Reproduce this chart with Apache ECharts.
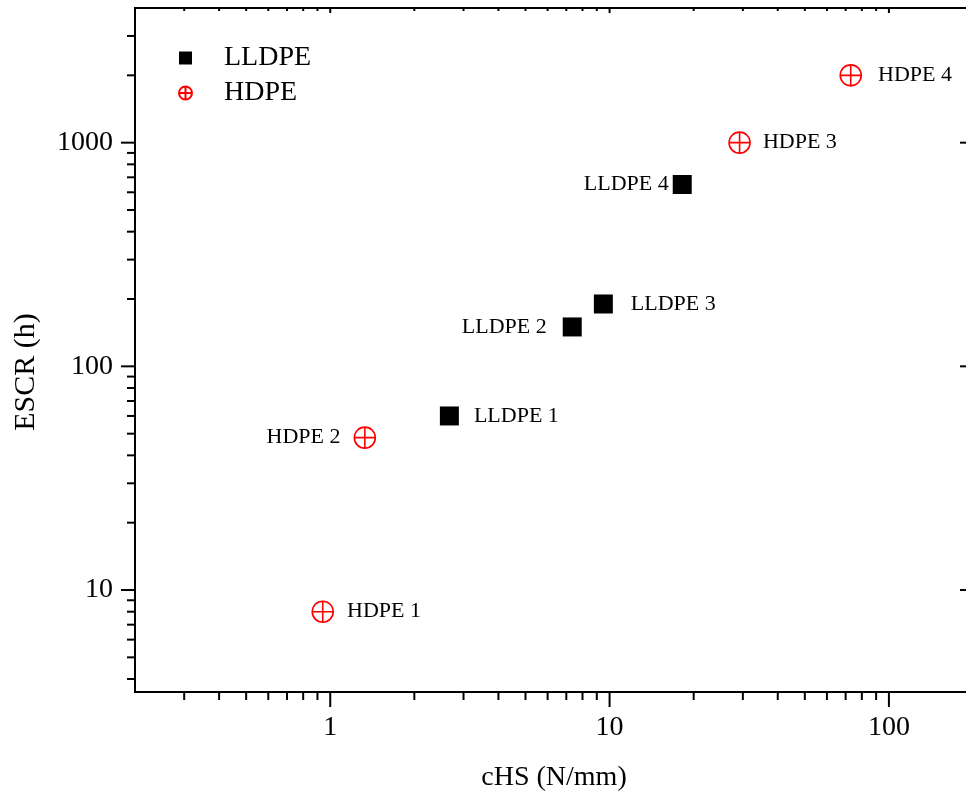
<!DOCTYPE html>
<html><head><meta charset="utf-8">
<script src="https://cdn.jsdelivr.net/npm/echarts@6/dist/echarts.min.js"></script>
<style>html,body{margin:0;padding:0;background:#fff}#c{width:966px;height:791px}</style>
</head><body><div id="c"></div>
<script>
// ---- data ----
const lldpeNames = ['LLDPE 1', 'LLDPE 2', 'LLDPE 3', 'LLDPE 4'];
const lldpeX = [2.67, 7.35, 9.5, 18.2];
const lldpeY = [60, 150, 190, 650];
const hdpeNames = ['HDPE 1', 'HDPE 2', 'HDPE 3', 'HDPE 4'];
const hdpeX = [0.94, 1.33, 29.2, 73];
const hdpeY = [8, 48, 1000, 2000];
const xRange = [0.2, 200];
const yRange = [3.5, 4000];
const xMajorTicks = [1, 10, 100];
const yMajorTicks = [10, 100, 1000];
const minorMultipliers = [2, 3, 4, 5, 6, 7, 8, 9];
const xDecades = [0.1, 1, 10, 100];
const yDecades = [1, 10, 100, 1000];

// ---- label placement (style) ----
const lldpeLabelSide = ['right', 'left', 'right', 'left'];
const lldpeLabelDist = [15, 16, 18, 4];
const hdpeLabelSide = ['right', 'left', 'right', 'right'];
const hdpeLabelDist = [13, 13, 12, 16];

const FONT = '"Liberation Serif", "Times New Roman", serif';

function minors(decades, range) {
  const out = [];
  decades.forEach(d => minorMultipliers.forEach(m => {
    const v = +(d * m).toPrecision(6);
    if (v > range[0] && v < range[1]) out.push(v);
  }));
  return out;
}
const xMinorTicks = minors(xDecades, xRange);
const yMinorTicks = minors(yDecades, yRange);

// tick data: [x, y, axis(0=x,1=y), major(1)/minor(0)]
const tickData = [];
xMajorTicks.forEach(v => tickData.push([v, 10, 0, 1]));
xMinorTicks.forEach(v => tickData.push([v, 10, 0, 0]));
yMajorTicks.forEach(v => tickData.push([1, v, 1, 1]));
yMinorTicks.forEach(v => tickData.push([1, v, 1, 0]));

function renderTick(params, api) {
  const cs = params.coordSys;
  const axis = api.value(2);
  const major = api.value(3) === 1;
  const p = api.coord([api.value(0), api.value(1)]);
  const st = { stroke: '#000', lineWidth: 2 };
  if (axis === 0) {
    const yb = cs.y + cs.height, yt = cs.y;
    const L = major ? 15 : 8, T = major ? 5 : 3;
    return { type: 'group', children: [
      { type: 'line', shape: { x1: p[0], y1: yb, x2: p[0], y2: yb + L }, style: st },
      { type: 'line', shape: { x1: p[0], y1: yt, x2: p[0], y2: yt + T }, style: st }
    ]};
  } else {
    const xl = cs.x, xr = cs.x + cs.width;
    const L = major ? 14 : 8, R = major ? 13 : 6;
    return { type: 'group', children: [
      { type: 'line', shape: { x1: xl - L, y1: p[1], x2: xl, y2: p[1] }, style: st },
      { type: 'line', shape: { x1: xr - R, y1: p[1], x2: xr, y2: p[1] }, style: st }
    ]};
  }
}

const crossCircle = 'path://M0,-10A10,10 0 1,1 0,10A10,10 0 1,1 0,-10Z M-10,0L10,0 M0,-10L0,10';

function mk(names, xs, ys, sides, dists) {
  return names.map((n, i) => ({
    name: n,
    value: [xs[i], ys[i]],
    label: { position: sides[i], distance: dists[i] }
  }));
}

const chart = echarts.init(document.getElementById('c'));
chart.setOption({
  animation: false,
  backgroundColor: '#fff',
  grid: { left: 135, top: 8, width: 838, height: 684, outerBoundsMode: 'none', containLabel: false,
    show: true, borderColor: '#000', borderWidth: 2, backgroundColor: 'transparent' },
  legend: {
    left: 173, top: 39, orient: 'vertical', itemWidth: 13, itemHeight: 13, itemGap: 7,
    formatter: name => '{g|}' + name,
    textStyle: { fontFamily: FONT, fontSize: 28, color: '#000', lineHeight: 28,
      rich: { g: { width: 27 } } },
    data: ['LLDPE', 'HDPE']
  },
  xAxis: {
    type: 'log', logBase: 10, min: xRange[0], max: xRange[1],
    name: 'cHS (N/mm)', nameLocation: 'middle', nameGap: 72,
    nameTextStyle: { fontFamily: FONT, fontSize: 28, color: '#000' },
    axisLine: { lineStyle: { color: '#000', width: 2 } },
    axisTick: { show: false }, minorTick: { show: false },
    splitLine: { show: false },
    axisLabel: { fontFamily: FONT, fontSize: 28, color: '#000', margin: 22, showMinLabel: false, showMaxLabel: false,
      formatter: v => String(+v.toPrecision(6)) }
  },
  yAxis: {
    type: 'log', logBase: 10, min: yRange[0], max: yRange[1],
    name: 'ESCR (h)', nameLocation: 'middle', nameGap: 94,
    nameTextStyle: { fontFamily: FONT, fontSize: 30, color: '#000', padding: [0, 44, 0, 0] },
    axisLine: { lineStyle: { color: '#000', width: 2 } },
    axisTick: { show: false }, minorTick: { show: false },
    splitLine: { show: false },
    axisLabel: { fontFamily: FONT, fontSize: 28, color: '#000', margin: 22, showMinLabel: false, showMaxLabel: false,
      formatter: v => String(+v.toPrecision(6)) }
  },
  series: [
    {
      name: 'LLDPE', type: 'scatter', symbol: 'rect', symbolSize: 19,
      itemStyle: { color: '#000', opacity: 1 },
      label: { show: true, formatter: '{b}', fontFamily: FONT, fontSize: 22, color: '#000' },
      data: mk(lldpeNames, lldpeX, lldpeY, lldpeLabelSide, lldpeLabelDist),
      z: 5
    },
    {
      name: 'HDPE', type: 'scatter', symbol: crossCircle, symbolSize: 21, symbolKeepAspect: true,
      itemStyle: { color: 'transparent', borderColor: '#ff0000', borderWidth: 1.6, opacity: 1 },
      label: { show: true, formatter: '{b}', fontFamily: FONT, fontSize: 22, color: '#000' },
      data: mk(hdpeNames, hdpeX, hdpeY, hdpeLabelSide, hdpeLabelDist),
      z: 5
    },
    {
      name: 'ticks', type: 'custom', renderItem: renderTick, data: tickData,
      encode: { x: 0, y: 1 }, clip: false, silent: true, z: 3
    }
  ]
});
</script>
</body></html>
